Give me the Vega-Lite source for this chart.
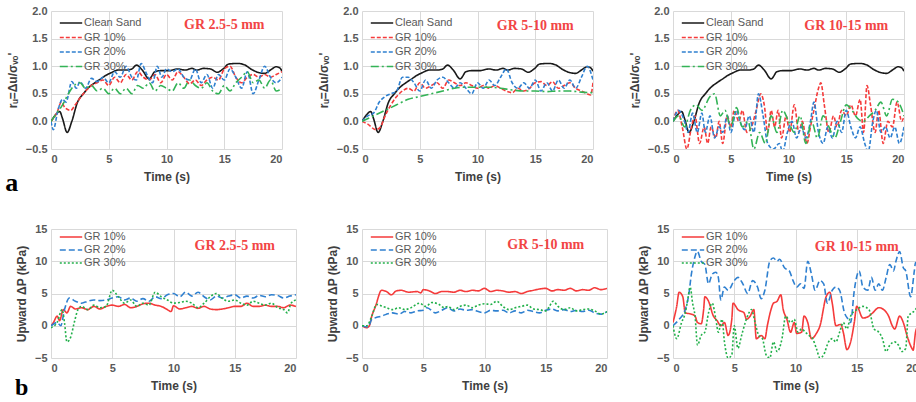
{
"$schema":"https://vega.github.io/schema/vega-lite/v6.json",
"padding":5,
"config":{"font":"Liberation Sans","view":{"stroke":null},
"axis":{"grid":true,"gridColor":"#d9d9d9","domain":false,"ticks":false,"labelFontWeight":"bold","labelFontSize":11,"labelColor":"#595959","titleFontSize":12,"titleColor":"#404040","titleFontWeight":"bold","labelPadding":4},
"axisX":{"titlePadding":7},"axisY":{"titlePadding":6},
"legend":{"orient":"none","legendX":12,"legendY":4,"padding":0,"labelFontSize":11,"labelColor":"#595959","symbolType":"M-1.6,0H1.6","symbolSize":196,"symbolStrokeWidth":1.6,"labelOffset":5,"rowPadding":1.5}},
"datasets":{
"cs":[{"s":"Clean Sand","t":0,"v":0},{"s":"Clean Sand","t":0.4,"v":0.12},{"s":"Clean Sand","t":0.75,"v":0.18},{"s":"Clean Sand","t":1.0,"v":0.05},{"s":"Clean Sand","t":1.4,"v":-0.2},{"s":"Clean Sand","t":1.8,"v":0.0},{"s":"Clean Sand","t":2.3,"v":0.35},{"s":"Clean Sand","t":2.8,"v":0.5},{"s":"Clean Sand","t":3.3,"v":0.62},{"s":"Clean Sand","t":3.8,"v":0.7},{"s":"Clean Sand","t":4.3,"v":0.77},{"s":"Clean Sand","t":4.8,"v":0.84},{"s":"Clean Sand","t":5.2,"v":0.88},{"s":"Clean Sand","t":5.8,"v":0.93},{"s":"Clean Sand","t":6.5,"v":0.93},{"s":"Clean Sand","t":7.0,"v":0.95},{"s":"Clean Sand","t":7.4,"v":1.02},{"s":"Clean Sand","t":7.9,"v":0.93},{"s":"Clean Sand","t":8.5,"v":0.77},{"s":"Clean Sand","t":9.0,"v":0.9},{"s":"Clean Sand","t":9.5,"v":0.92},{"s":"Clean Sand","t":10.2,"v":0.92},{"s":"Clean Sand","t":11.0,"v":0.95},{"s":"Clean Sand","t":11.6,"v":0.93},{"s":"Clean Sand","t":12.2,"v":0.96},{"s":"Clean Sand","t":12.6,"v":0.93},{"s":"Clean Sand","t":13.2,"v":0.96},{"s":"Clean Sand","t":13.8,"v":0.95},{"s":"Clean Sand","t":14.4,"v":0.89},{"s":"Clean Sand","t":14.9,"v":0.95},{"s":"Clean Sand","t":15.4,"v":1.04},{"s":"Clean Sand","t":16.2,"v":1.05},{"s":"Clean Sand","t":16.8,"v":1.02},{"s":"Clean Sand","t":17.3,"v":0.95},{"s":"Clean Sand","t":17.9,"v":0.89},{"s":"Clean Sand","t":18.5,"v":0.87},{"s":"Clean Sand","t":19.0,"v":0.93},{"s":"Clean Sand","t":19.5,"v":0.99},{"s":"Clean Sand","t":19.8,"v":0.97},{"s":"Clean Sand","t":20,"v":0.91}],
"a1":[
{"s":"GR 10%","t":0,"v":0},{"s":"GR 10%","t":0.5,"v":0.15},{"s":"GR 10%","t":0.9,"v":0.35},{"s":"GR 10%","t":1.2,"v":0.25},{"s":"GR 10%","t":1.7,"v":0.2},{"s":"GR 10%","t":2.1,"v":0.3},{"s":"GR 10%","t":2.5,"v":0.42},{"s":"GR 10%","t":3,"v":0.55},{"s":"GR 10%","t":3.5,"v":0.65},{"s":"GR 10%","t":4,"v":0.7},{"s":"GR 10%","t":4.5,"v":0.75},{"s":"GR 10%","t":5,"v":0.65},{"s":"GR 10%","t":5.5,"v":0.8},{"s":"GR 10%","t":6,"v":0.7},{"s":"GR 10%","t":6.5,"v":0.85},{"s":"GR 10%","t":7,"v":0.75},{"s":"GR 10%","t":7.5,"v":0.9},{"s":"GR 10%","t":8,"v":0.8},{"s":"GR 10%","t":8.5,"v":0.75},{"s":"GR 10%","t":9,"v":0.85},{"s":"GR 10%","t":9.5,"v":0.7},{"s":"GR 10%","t":10,"v":0.85},{"s":"GR 10%","t":10.5,"v":0.75},{"s":"GR 10%","t":11,"v":0.9},{"s":"GR 10%","t":11.5,"v":0.8},{"s":"GR 10%","t":12,"v":0.68},{"s":"GR 10%","t":12.5,"v":0.75},{"s":"GR 10%","t":13,"v":0.65},{"s":"GR 10%","t":13.5,"v":0.75},{"s":"GR 10%","t":14,"v":0.8},{"s":"GR 10%","t":14.5,"v":0.75},{"s":"GR 10%","t":15,"v":0.95},{"s":"GR 10%","t":15.5,"v":1.0},{"s":"GR 10%","t":16,"v":0.8},{"s":"GR 10%","t":16.5,"v":0.7},{"s":"GR 10%","t":17,"v":0.8},{"s":"GR 10%","t":17.5,"v":0.85},{"s":"GR 10%","t":18,"v":0.8},{"s":"GR 10%","t":18.5,"v":0.85},{"s":"GR 10%","t":19,"v":0.8},{"s":"GR 10%","t":19.5,"v":0.85},{"s":"GR 10%","t":20,"v":0.9},
{"s":"GR 20%","t":0,"v":0},{"s":"GR 20%","t":0.2,"v":-0.15},{"s":"GR 20%","t":0.6,"v":0.2},{"s":"GR 20%","t":1,"v":0.4},{"s":"GR 20%","t":1.3,"v":0.35},{"s":"GR 20%","t":1.8,"v":0.72},{"s":"GR 20%","t":2.2,"v":0.6},{"s":"GR 20%","t":2.5,"v":0.72},{"s":"GR 20%","t":3,"v":0.6},{"s":"GR 20%","t":3.5,"v":0.78},{"s":"GR 20%","t":4,"v":0.72},{"s":"GR 20%","t":4.5,"v":0.8},{"s":"GR 20%","t":5,"v":0.7},{"s":"GR 20%","t":5.5,"v":0.9},{"s":"GR 20%","t":6,"v":0.8},{"s":"GR 20%","t":6.5,"v":1.0},{"s":"GR 20%","t":7,"v":0.8},{"s":"GR 20%","t":7.4,"v":0.75},{"s":"GR 20%","t":7.8,"v":1.05},{"s":"GR 20%","t":8.3,"v":0.85},{"s":"GR 20%","t":8.8,"v":0.7},{"s":"GR 20%","t":9.2,"v":1.0},{"s":"GR 20%","t":9.6,"v":0.8},{"s":"GR 20%","t":10,"v":0.95},{"s":"GR 20%","t":10.5,"v":0.9},{"s":"GR 20%","t":11,"v":0.95},{"s":"GR 20%","t":11.5,"v":0.8},{"s":"GR 20%","t":12,"v":0.75},{"s":"GR 20%","t":12.5,"v":0.95},{"s":"GR 20%","t":13,"v":0.7},{"s":"GR 20%","t":13.5,"v":0.85},{"s":"GR 20%","t":14,"v":0.6},{"s":"GR 20%","t":14.5,"v":0.85},{"s":"GR 20%","t":15,"v":0.75},{"s":"GR 20%","t":15.5,"v":0.95},{"s":"GR 20%","t":16,"v":0.8},{"s":"GR 20%","t":16.5,"v":0.6},{"s":"GR 20%","t":17,"v":0.9},{"s":"GR 20%","t":17.5,"v":0.5},{"s":"GR 20%","t":18,"v":0.75},{"s":"GR 20%","t":18.5,"v":1.0},{"s":"GR 20%","t":19,"v":0.8},{"s":"GR 20%","t":19.5,"v":0.7},{"s":"GR 20%","t":20,"v":0.8},
{"s":"GR 30%","t":0,"v":0},{"s":"GR 30%","t":0.5,"v":0.15},{"s":"GR 30%","t":1,"v":0.3},{"s":"GR 30%","t":1.5,"v":0.5},{"s":"GR 30%","t":2,"v":0.65},{"s":"GR 30%","t":2.5,"v":0.7},{"s":"GR 30%","t":3,"v":0.6},{"s":"GR 30%","t":3.5,"v":0.65},{"s":"GR 30%","t":4,"v":0.55},{"s":"GR 30%","t":4.5,"v":0.6},{"s":"GR 30%","t":5,"v":0.5},{"s":"GR 30%","t":5.5,"v":0.6},{"s":"GR 30%","t":6,"v":0.5},{"s":"GR 30%","t":6.5,"v":0.6},{"s":"GR 30%","t":7,"v":0.5},{"s":"GR 30%","t":7.5,"v":0.65},{"s":"GR 30%","t":8,"v":0.6},{"s":"GR 30%","t":8.5,"v":0.7},{"s":"GR 30%","t":9,"v":0.55},{"s":"GR 30%","t":9.5,"v":0.65},{"s":"GR 30%","t":10,"v":0.6},{"s":"GR 30%","t":10.5,"v":0.55},{"s":"GR 30%","t":11,"v":0.7},{"s":"GR 30%","t":11.5,"v":0.6},{"s":"GR 30%","t":12,"v":0.75},{"s":"GR 30%","t":12.5,"v":0.65},{"s":"GR 30%","t":13,"v":0.6},{"s":"GR 30%","t":13.5,"v":0.7},{"s":"GR 30%","t":14,"v":0.55},{"s":"GR 30%","t":14.5,"v":0.5},{"s":"GR 30%","t":15,"v":0.65},{"s":"GR 30%","t":15.5,"v":0.55},{"s":"GR 30%","t":16,"v":0.7},{"s":"GR 30%","t":16.5,"v":0.8},{"s":"GR 30%","t":17,"v":0.9},{"s":"GR 30%","t":17.5,"v":0.7},{"s":"GR 30%","t":18,"v":0.75},{"s":"GR 30%","t":18.5,"v":0.6},{"s":"GR 30%","t":19,"v":0.75},{"s":"GR 30%","t":19.5,"v":0.55},{"s":"GR 30%","t":20,"v":0.6}],
"a2":[
{"s":"GR 10%","t":0,"v":0},{"s":"GR 10%","t":0.5,"v":-0.05},{"s":"GR 10%","t":1.2,"v":-0.15},{"s":"GR 10%","t":1.6,"v":-0.1},{"s":"GR 10%","t":2,"v":0.1},{"s":"GR 10%","t":2.5,"v":0.3},{"s":"GR 10%","t":3,"v":0.45},{"s":"GR 10%","t":3.5,"v":0.55},{"s":"GR 10%","t":4,"v":0.6},{"s":"GR 10%","t":4.5,"v":0.55},{"s":"GR 10%","t":5,"v":0.7},{"s":"GR 10%","t":5.5,"v":0.6},{"s":"GR 10%","t":6,"v":0.65},{"s":"GR 10%","t":6.5,"v":0.7},{"s":"GR 10%","t":7,"v":0.6},{"s":"GR 10%","t":7.5,"v":0.75},{"s":"GR 10%","t":8,"v":0.7},{"s":"GR 10%","t":8.5,"v":0.65},{"s":"GR 10%","t":9,"v":0.7},{"s":"GR 10%","t":9.5,"v":0.65},{"s":"GR 10%","t":10,"v":0.6},{"s":"GR 10%","t":10.5,"v":0.65},{"s":"GR 10%","t":11,"v":0.6},{"s":"GR 10%","t":11.5,"v":0.65},{"s":"GR 10%","t":12,"v":0.6},{"s":"GR 10%","t":12.5,"v":0.55},{"s":"GR 10%","t":13,"v":0.52},{"s":"GR 10%","t":13.5,"v":0.6},{"s":"GR 10%","t":14,"v":0.55},{"s":"GR 10%","t":14.5,"v":0.6},{"s":"GR 10%","t":15,"v":0.7},{"s":"GR 10%","t":15.5,"v":0.72},{"s":"GR 10%","t":16,"v":0.65},{"s":"GR 10%","t":16.5,"v":0.72},{"s":"GR 10%","t":17,"v":0.6},{"s":"GR 10%","t":17.5,"v":0.65},{"s":"GR 10%","t":18,"v":0.7},{"s":"GR 10%","t":18.5,"v":0.6},{"s":"GR 10%","t":19,"v":0.55},{"s":"GR 10%","t":19.5,"v":0.5},{"s":"GR 10%","t":19.8,"v":0.48},{"s":"GR 10%","t":20,"v":0.7},
{"s":"GR 20%","t":0,"v":0},{"s":"GR 20%","t":0.5,"v":0.1},{"s":"GR 20%","t":1,"v":0.15},{"s":"GR 20%","t":1.5,"v":0.35},{"s":"GR 20%","t":2,"v":0.45},{"s":"GR 20%","t":2.5,"v":0.5},{"s":"GR 20%","t":3,"v":0.55},{"s":"GR 20%","t":3.5,"v":0.8},{"s":"GR 20%","t":4,"v":0.8},{"s":"GR 20%","t":4.5,"v":0.7},{"s":"GR 20%","t":5,"v":0.55},{"s":"GR 20%","t":5.5,"v":0.75},{"s":"GR 20%","t":6,"v":0.6},{"s":"GR 20%","t":6.5,"v":0.75},{"s":"GR 20%","t":7,"v":0.8},{"s":"GR 20%","t":7.5,"v":0.7},{"s":"GR 20%","t":8,"v":0.6},{"s":"GR 20%","t":8.5,"v":0.7},{"s":"GR 20%","t":9,"v":0.6},{"s":"GR 20%","t":9.5,"v":0.5},{"s":"GR 20%","t":10,"v":0.7},{"s":"GR 20%","t":10.5,"v":0.6},{"s":"GR 20%","t":11,"v":0.75},{"s":"GR 20%","t":11.5,"v":0.65},{"s":"GR 20%","t":12,"v":0.8},{"s":"GR 20%","t":12.5,"v":0.95},{"s":"GR 20%","t":13,"v":0.7},{"s":"GR 20%","t":13.5,"v":0.6},{"s":"GR 20%","t":14,"v":0.7},{"s":"GR 20%","t":14.5,"v":0.6},{"s":"GR 20%","t":15,"v":0.75},{"s":"GR 20%","t":15.5,"v":0.55},{"s":"GR 20%","t":16,"v":0.7},{"s":"GR 20%","t":16.5,"v":0.55},{"s":"GR 20%","t":17,"v":0.75},{"s":"GR 20%","t":17.5,"v":0.6},{"s":"GR 20%","t":18,"v":0.75},{"s":"GR 20%","t":18.5,"v":0.6},{"s":"GR 20%","t":19,"v":0.8},{"s":"GR 20%","t":19.5,"v":1.0},{"s":"GR 20%","t":20,"v":0.75},
{"s":"GR 30%","t":0,"v":0},{"s":"GR 30%","t":1,"v":0.1},{"s":"GR 30%","t":2,"v":0.2},{"s":"GR 30%","t":3,"v":0.3},{"s":"GR 30%","t":4,"v":0.4},{"s":"GR 30%","t":5,"v":0.45},{"s":"GR 30%","t":6,"v":0.5},{"s":"GR 30%","t":7,"v":0.55},{"s":"GR 30%","t":8,"v":0.6},{"s":"GR 30%","t":9,"v":0.62},{"s":"GR 30%","t":10,"v":0.62},{"s":"GR 30%","t":11,"v":0.62},{"s":"GR 30%","t":12,"v":0.6},{"s":"GR 30%","t":13,"v":0.57},{"s":"GR 30%","t":14,"v":0.55},{"s":"GR 30%","t":15,"v":0.55},{"s":"GR 30%","t":16,"v":0.54},{"s":"GR 30%","t":17,"v":0.55},{"s":"GR 30%","t":18,"v":0.55},{"s":"GR 30%","t":19,"v":0.53},{"s":"GR 30%","t":20,"v":0.52}],
"a3":[
{"s":"GR 10%","t":0,"v":0},{"s":"GR 10%","t":0.4,"v":0.2},{"s":"GR 10%","t":0.8,"v":-0.1},{"s":"GR 10%","t":1.2,"v":-0.5},{"s":"GR 10%","t":1.6,"v":-0.1},{"s":"GR 10%","t":1.9,"v":0.1},{"s":"GR 10%","t":2.3,"v":-0.4},{"s":"GR 10%","t":2.7,"v":-0.1},{"s":"GR 10%","t":3.0,"v":-0.4},{"s":"GR 10%","t":3.3,"v":-0.1},{"s":"GR 10%","t":3.7,"v":-0.3},{"s":"GR 10%","t":4.0,"v":0.0},{"s":"GR 10%","t":4.3,"v":-0.4},{"s":"GR 10%","t":4.7,"v":0.1},{"s":"GR 10%","t":5,"v":-0.1},{"s":"GR 10%","t":5.3,"v":0.2},{"s":"GR 10%","t":5.7,"v":0.0},{"s":"GR 10%","t":6.0,"v":0.2},{"s":"GR 10%","t":6.4,"v":-0.2},{"s":"GR 10%","t":6.8,"v":-0.1},{"s":"GR 10%","t":7.2,"v":0.2},{"s":"GR 10%","t":7.6,"v":0.5},{"s":"GR 10%","t":7.9,"v":0.3},{"s":"GR 10%","t":8.2,"v":-0.2},{"s":"GR 10%","t":8.5,"v":0.2},{"s":"GR 10%","t":8.8,"v":-0.1},{"s":"GR 10%","t":9.1,"v":0.2},{"s":"GR 10%","t":9.4,"v":-0.3},{"s":"GR 10%","t":9.8,"v":0.1},{"s":"GR 10%","t":10.1,"v":-0.2},{"s":"GR 10%","t":10.5,"v":0.3},{"s":"GR 10%","t":10.9,"v":-0.2},{"s":"GR 10%","t":11.2,"v":0.0},{"s":"GR 10%","t":11.6,"v":-0.4},{"s":"GR 10%","t":11.9,"v":-0.1},{"s":"GR 10%","t":12.2,"v":0.2},{"s":"GR 10%","t":12.6,"v":0.6},{"s":"GR 10%","t":12.8,"v":0.7},{"s":"GR 10%","t":13.1,"v":0.3},{"s":"GR 10%","t":13.5,"v":-0.2},{"s":"GR 10%","t":13.9,"v":0.1},{"s":"GR 10%","t":14.2,"v":-0.1},{"s":"GR 10%","t":14.6,"v":0.2},{"s":"GR 10%","t":15,"v":0.1},{"s":"GR 10%","t":15.4,"v":0.3},{"s":"GR 10%","t":15.8,"v":0.1},{"s":"GR 10%","t":16.2,"v":0.4},{"s":"GR 10%","t":16.5,"v":-0.2},{"s":"GR 10%","t":16.8,"v":0.65},{"s":"GR 10%","t":17.1,"v":0.3},{"s":"GR 10%","t":17.5,"v":-0.2},{"s":"GR 10%","t":17.8,"v":0.2},{"s":"GR 10%","t":18.2,"v":-0.4},{"s":"GR 10%","t":18.6,"v":0.0},{"s":"GR 10%","t":19,"v":-0.1},{"s":"GR 10%","t":19.4,"v":0.35},{"s":"GR 10%","t":19.8,"v":0.0},{"s":"GR 10%","t":20,"v":0.1},
{"s":"GR 20%","t":0,"v":0},{"s":"GR 20%","t":0.5,"v":0.2},{"s":"GR 20%","t":1.0,"v":0.0},{"s":"GR 20%","t":1.3,"v":-0.2},{"s":"GR 20%","t":1.7,"v":0.15},{"s":"GR 20%","t":2.1,"v":-0.2},{"s":"GR 20%","t":2.5,"v":0.15},{"s":"GR 20%","t":2.8,"v":-0.2},{"s":"GR 20%","t":3.2,"v":0.1},{"s":"GR 20%","t":3.6,"v":-0.3},{"s":"GR 20%","t":4,"v":-0.1},{"s":"GR 20%","t":4.3,"v":-0.2},{"s":"GR 20%","t":4.7,"v":0.1},{"s":"GR 20%","t":5,"v":-0.2},{"s":"GR 20%","t":5.5,"v":0.2},{"s":"GR 20%","t":5.8,"v":0.0},{"s":"GR 20%","t":6.2,"v":-0.15},{"s":"GR 20%","t":6.6,"v":0.1},{"s":"GR 20%","t":7.0,"v":-0.2},{"s":"GR 20%","t":7.4,"v":0.5},{"s":"GR 20%","t":7.8,"v":0.1},{"s":"GR 20%","t":8.2,"v":-0.4},{"s":"GR 20%","t":8.7,"v":-0.5},{"s":"GR 20%","t":9.2,"v":-0.4},{"s":"GR 20%","t":9.5,"v":-0.55},{"s":"GR 20%","t":9.9,"v":-0.2},{"s":"GR 20%","t":10.3,"v":0.0},{"s":"GR 20%","t":10.7,"v":-0.3},{"s":"GR 20%","t":11.1,"v":-0.1},{"s":"GR 20%","t":11.5,"v":-0.3},{"s":"GR 20%","t":11.9,"v":0.0},{"s":"GR 20%","t":12.2,"v":0.35},{"s":"GR 20%","t":12.6,"v":-0.2},{"s":"GR 20%","t":13,"v":-0.4},{"s":"GR 20%","t":13.4,"v":-0.1},{"s":"GR 20%","t":13.8,"v":-0.3},{"s":"GR 20%","t":14.2,"v":0.0},{"s":"GR 20%","t":14.6,"v":-0.2},{"s":"GR 20%","t":15,"v":0.2},{"s":"GR 20%","t":15.4,"v":-0.1},{"s":"GR 20%","t":15.8,"v":-0.3},{"s":"GR 20%","t":16.2,"v":-0.1},{"s":"GR 20%","t":16.6,"v":-0.4},{"s":"GR 20%","t":16.9,"v":-0.55},{"s":"GR 20%","t":17.3,"v":0.0},{"s":"GR 20%","t":17.6,"v":0.2},{"s":"GR 20%","t":18,"v":-0.2},{"s":"GR 20%","t":18.4,"v":-0.1},{"s":"GR 20%","t":18.8,"v":-0.3},{"s":"GR 20%","t":19.2,"v":-0.1},{"s":"GR 20%","t":19.6,"v":-0.4},{"s":"GR 20%","t":20,"v":-0.1},
{"s":"GR 30%","t":0,"v":0},{"s":"GR 30%","t":0.5,"v":0.1},{"s":"GR 30%","t":1,"v":-0.1},{"s":"GR 30%","t":1.5,"v":0.2},{"s":"GR 30%","t":2,"v":0.3},{"s":"GR 30%","t":2.5,"v":0.2},{"s":"GR 30%","t":3.2,"v":0.45},{"s":"GR 30%","t":3.6,"v":0.5},{"s":"GR 30%","t":4.1,"v":0.1},{"s":"GR 30%","t":4.5,"v":0.2},{"s":"GR 30%","t":5,"v":-0.1},{"s":"GR 30%","t":5.5,"v":0.25},{"s":"GR 30%","t":6,"v":-0.1},{"s":"GR 30%","t":6.5,"v":0.0},{"s":"GR 30%","t":7,"v":-0.5},{"s":"GR 30%","t":7.5,"v":-0.2},{"s":"GR 30%","t":8,"v":-0.4},{"s":"GR 30%","t":8.5,"v":0.1},{"s":"GR 30%","t":9,"v":-0.2},{"s":"GR 30%","t":9.5,"v":0.2},{"s":"GR 30%","t":10,"v":0.0},{"s":"GR 30%","t":10.5,"v":-0.2},{"s":"GR 30%","t":11,"v":0.1},{"s":"GR 30%","t":11.5,"v":-0.4},{"s":"GR 30%","t":12,"v":0.0},{"s":"GR 30%","t":12.5,"v":-0.3},{"s":"GR 30%","t":13,"v":0.1},{"s":"GR 30%","t":13.5,"v":-0.1},{"s":"GR 30%","t":14,"v":-0.3},{"s":"GR 30%","t":14.5,"v":0.0},{"s":"GR 30%","t":15,"v":0.3},{"s":"GR 30%","t":15.5,"v":0.2},{"s":"GR 30%","t":16,"v":0.05},{"s":"GR 30%","t":16.5,"v":0.0},{"s":"GR 30%","t":17,"v":0.1},{"s":"GR 30%","t":17.5,"v":0.2},{"s":"GR 30%","t":18,"v":0.35},{"s":"GR 30%","t":18.5,"v":0.1},{"s":"GR 30%","t":19,"v":0.4},{"s":"GR 30%","t":19.5,"v":0.35},{"s":"GR 30%","t":20,"v":0.1}],
"b1":[
{"s":"GR 10%","t":0,"v":0},{"s":"GR 10%","t":0.2,"v":0.5},{"s":"GR 10%","t":0.5,"v":1.5},{"s":"GR 10%","t":0.7,"v":0.8},{"s":"GR 10%","t":1.0,"v":2.5},{"s":"GR 10%","t":1.3,"v":2.0},{"s":"GR 10%","t":1.6,"v":3.0},{"s":"GR 10%","t":2,"v":2.6},{"s":"GR 10%","t":2.5,"v":2.8},{"s":"GR 10%","t":3,"v":2.5},{"s":"GR 10%","t":3.5,"v":3.0},{"s":"GR 10%","t":4,"v":2.6},{"s":"GR 10%","t":4.5,"v":3.0},{"s":"GR 10%","t":5,"v":3.2},{"s":"GR 10%","t":5.5,"v":3.0},{"s":"GR 10%","t":6,"v":3.3},{"s":"GR 10%","t":6.5,"v":2.8},{"s":"GR 10%","t":7,"v":3.0},{"s":"GR 10%","t":7.5,"v":3.4},{"s":"GR 10%","t":8,"v":3.5},{"s":"GR 10%","t":8.5,"v":3.2},{"s":"GR 10%","t":9,"v":3.0},{"s":"GR 10%","t":9.5,"v":2.5},{"s":"GR 10%","t":9.8,"v":2.2},{"s":"GR 10%","t":10,"v":3.1},{"s":"GR 10%","t":10.5,"v":2.6},{"s":"GR 10%","t":11,"v":2.8},{"s":"GR 10%","t":11.5,"v":3.0},{"s":"GR 10%","t":12,"v":2.7},{"s":"GR 10%","t":12.5,"v":3.0},{"s":"GR 10%","t":13,"v":2.6},{"s":"GR 10%","t":13.5,"v":2.5},{"s":"GR 10%","t":14,"v":2.6},{"s":"GR 10%","t":14.5,"v":2.8},{"s":"GR 10%","t":15,"v":3.0},{"s":"GR 10%","t":15.5,"v":3.0},{"s":"GR 10%","t":16,"v":3.5},{"s":"GR 10%","t":16.5,"v":3.0},{"s":"GR 10%","t":17,"v":3.0},{"s":"GR 10%","t":17.5,"v":3.2},{"s":"GR 10%","t":18,"v":3.0},{"s":"GR 10%","t":18.5,"v":3.0},{"s":"GR 10%","t":19,"v":2.8},{"s":"GR 10%","t":19.5,"v":3.2},{"s":"GR 10%","t":20,"v":3.0},
{"s":"GR 20%","t":0,"v":0},{"s":"GR 20%","t":0.5,"v":0.5},{"s":"GR 20%","t":0.8,"v":0},{"s":"GR 20%","t":1.1,"v":2.5},{"s":"GR 20%","t":1.5,"v":4.3},{"s":"GR 20%","t":2,"v":3.8},{"s":"GR 20%","t":2.5,"v":3.5},{"s":"GR 20%","t":3,"v":3.8},{"s":"GR 20%","t":3.5,"v":4.0},{"s":"GR 20%","t":4,"v":3.9},{"s":"GR 20%","t":4.5,"v":4.0},{"s":"GR 20%","t":5,"v":4.3},{"s":"GR 20%","t":5.5,"v":4.5},{"s":"GR 20%","t":6,"v":4.0},{"s":"GR 20%","t":6.5,"v":4.3},{"s":"GR 20%","t":7,"v":3.8},{"s":"GR 20%","t":7.5,"v":4.2},{"s":"GR 20%","t":8,"v":3.8},{"s":"GR 20%","t":8.5,"v":4.5},{"s":"GR 20%","t":9,"v":4.2},{"s":"GR 20%","t":9.5,"v":4.8},{"s":"GR 20%","t":10,"v":5.0},{"s":"GR 20%","t":10.5,"v":4.5},{"s":"GR 20%","t":11,"v":5.2},{"s":"GR 20%","t":11.5,"v":4.6},{"s":"GR 20%","t":12,"v":5.2},{"s":"GR 20%","t":12.5,"v":4.5},{"s":"GR 20%","t":13,"v":4.0},{"s":"GR 20%","t":13.5,"v":4.6},{"s":"GR 20%","t":14,"v":4.3},{"s":"GR 20%","t":14.5,"v":4.6},{"s":"GR 20%","t":15,"v":4.8},{"s":"GR 20%","t":15.5,"v":4.3},{"s":"GR 20%","t":16,"v":4.6},{"s":"GR 20%","t":16.5,"v":4.3},{"s":"GR 20%","t":17,"v":4.7},{"s":"GR 20%","t":17.5,"v":4.5},{"s":"GR 20%","t":18,"v":4.8},{"s":"GR 20%","t":18.5,"v":4.7},{"s":"GR 20%","t":19,"v":4.3},{"s":"GR 20%","t":19.5,"v":4.6},{"s":"GR 20%","t":20,"v":4.8},
{"s":"GR 30%","t":0,"v":-0.3},{"s":"GR 30%","t":0.5,"v":0.5},{"s":"GR 30%","t":0.9,"v":2.5},{"s":"GR 30%","t":1.1,"v":0.5},{"s":"GR 30%","t":1.3,"v":-2.5},{"s":"GR 30%","t":1.6,"v":-1.8},{"s":"GR 30%","t":1.9,"v":0.5},{"s":"GR 30%","t":2.2,"v":2.5},{"s":"GR 30%","t":2.5,"v":3.0},{"s":"GR 30%","t":3,"v":2.5},{"s":"GR 30%","t":3.5,"v":3.2},{"s":"GR 30%","t":4,"v":2.8},{"s":"GR 30%","t":4.5,"v":3.0},{"s":"GR 30%","t":5,"v":5.5},{"s":"GR 30%","t":5.5,"v":4.5},{"s":"GR 30%","t":6,"v":3.5},{"s":"GR 30%","t":6.5,"v":4.0},{"s":"GR 30%","t":7,"v":3.0},{"s":"GR 30%","t":7.5,"v":3.5},{"s":"GR 30%","t":8,"v":3.2},{"s":"GR 30%","t":8.5,"v":5.2},{"s":"GR 30%","t":9,"v":4.5},{"s":"GR 30%","t":9.5,"v":4.0},{"s":"GR 30%","t":10,"v":3.5},{"s":"GR 30%","t":10.5,"v":3.6},{"s":"GR 30%","t":11,"v":3.8},{"s":"GR 30%","t":11.5,"v":3.5},{"s":"GR 30%","t":12,"v":2.8},{"s":"GR 30%","t":12.5,"v":3.5},{"s":"GR 30%","t":13,"v":4.5},{"s":"GR 30%","t":13.5,"v":5.0},{"s":"GR 30%","t":14,"v":4.2},{"s":"GR 30%","t":14.5,"v":3.8},{"s":"GR 30%","t":15,"v":4.0},{"s":"GR 30%","t":15.5,"v":3.5},{"s":"GR 30%","t":16,"v":3.2},{"s":"GR 30%","t":16.5,"v":3.8},{"s":"GR 30%","t":17,"v":3.5},{"s":"GR 30%","t":17.5,"v":3.2},{"s":"GR 30%","t":18,"v":3.5},{"s":"GR 30%","t":18.5,"v":2.8},{"s":"GR 30%","t":19,"v":2.5},{"s":"GR 30%","t":19.3,"v":2.0},{"s":"GR 30%","t":19.6,"v":3.5},{"s":"GR 30%","t":20,"v":4.0}],
"b2":[
{"s":"GR 10%","t":0,"v":0},{"s":"GR 10%","t":0.4,"v":-0.3},{"s":"GR 10%","t":0.6,"v":0},{"s":"GR 10%","t":0.8,"v":1.5},{"s":"GR 10%","t":1.1,"v":3.0},{"s":"GR 10%","t":1.6,"v":5.5},{"s":"GR 10%","t":2,"v":5.3},{"s":"GR 10%","t":2.4,"v":4.8},{"s":"GR 10%","t":2.8,"v":5.4},{"s":"GR 10%","t":3.2,"v":5.5},{"s":"GR 10%","t":3.8,"v":5.2},{"s":"GR 10%","t":4.5,"v":5.3},{"s":"GR 10%","t":4.8,"v":5.1},{"s":"GR 10%","t":5,"v":5.6},{"s":"GR 10%","t":5.5,"v":5.4},{"s":"GR 10%","t":6,"v":5.0},{"s":"GR 10%","t":6.5,"v":5.3},{"s":"GR 10%","t":7,"v":5.3},{"s":"GR 10%","t":7.5,"v":5.2},{"s":"GR 10%","t":8,"v":5.5},{"s":"GR 10%","t":8.5,"v":5.3},{"s":"GR 10%","t":9,"v":5.5},{"s":"GR 10%","t":9.5,"v":5.4},{"s":"GR 10%","t":10,"v":5.8},{"s":"GR 10%","t":10.5,"v":5.3},{"s":"GR 10%","t":11,"v":5.5},{"s":"GR 10%","t":11.5,"v":5.4},{"s":"GR 10%","t":12,"v":5.2},{"s":"GR 10%","t":12.5,"v":5.3},{"s":"GR 10%","t":13,"v":5.0},{"s":"GR 10%","t":13.5,"v":5.3},{"s":"GR 10%","t":14,"v":5.5},{"s":"GR 10%","t":14.5,"v":5.7},{"s":"GR 10%","t":15,"v":5.8},{"s":"GR 10%","t":15.5,"v":5.4},{"s":"GR 10%","t":16,"v":5.6},{"s":"GR 10%","t":16.5,"v":5.5},{"s":"GR 10%","t":17,"v":5.8},{"s":"GR 10%","t":17.5,"v":5.4},{"s":"GR 10%","t":18,"v":5.6},{"s":"GR 10%","t":18.5,"v":5.5},{"s":"GR 10%","t":19,"v":5.9},{"s":"GR 10%","t":19.5,"v":5.6},{"s":"GR 10%","t":20,"v":5.8},
{"s":"GR 20%","t":0,"v":0},{"s":"GR 20%","t":0.5,"v":-0.2},{"s":"GR 20%","t":0.8,"v":1.0},{"s":"GR 20%","t":1.2,"v":1.3},{"s":"GR 20%","t":1.6,"v":1.5},{"s":"GR 20%","t":2,"v":1.8},{"s":"GR 20%","t":2.5,"v":2.0},{"s":"GR 20%","t":3,"v":1.8},{"s":"GR 20%","t":3.5,"v":2.2},{"s":"GR 20%","t":4,"v":2.0},{"s":"GR 20%","t":4.5,"v":2.3},{"s":"GR 20%","t":5,"v":2.4},{"s":"GR 20%","t":5.3,"v":2.8},{"s":"GR 20%","t":6,"v":2.0},{"s":"GR 20%","t":6.5,"v":2.4},{"s":"GR 20%","t":7,"v":2.8},{"s":"GR 20%","t":7.5,"v":2.3},{"s":"GR 20%","t":8,"v":2.6},{"s":"GR 20%","t":8.5,"v":2.4},{"s":"GR 20%","t":9,"v":2.5},{"s":"GR 20%","t":9.5,"v":2.2},{"s":"GR 20%","t":10,"v":2.0},{"s":"GR 20%","t":10.5,"v":2.4},{"s":"GR 20%","t":11,"v":2.3},{"s":"GR 20%","t":11.5,"v":2.4},{"s":"GR 20%","t":12,"v":2.0},{"s":"GR 20%","t":12.5,"v":2.3},{"s":"GR 20%","t":13,"v":2.0},{"s":"GR 20%","t":13.5,"v":2.4},{"s":"GR 20%","t":14,"v":2.2},{"s":"GR 20%","t":14.5,"v":2.0},{"s":"GR 20%","t":15,"v":2.4},{"s":"GR 20%","t":15.5,"v":2.6},{"s":"GR 20%","t":16,"v":2.3},{"s":"GR 20%","t":16.5,"v":2.5},{"s":"GR 20%","t":17,"v":2.2},{"s":"GR 20%","t":17.5,"v":2.4},{"s":"GR 20%","t":18,"v":2.2},{"s":"GR 20%","t":18.5,"v":2.4},{"s":"GR 20%","t":19,"v":2.0},{"s":"GR 20%","t":19.5,"v":1.8},{"s":"GR 20%","t":20,"v":2.2},
{"s":"GR 30%","t":0,"v":0},{"s":"GR 30%","t":0.4,"v":0},{"s":"GR 30%","t":0.8,"v":1.5},{"s":"GR 30%","t":1.2,"v":3.3},{"s":"GR 30%","t":1.7,"v":3.0},{"s":"GR 30%","t":2,"v":2.8},{"s":"GR 30%","t":2.5,"v":2.5},{"s":"GR 30%","t":3,"v":2.8},{"s":"GR 30%","t":3.5,"v":2.5},{"s":"GR 30%","t":4,"v":2.8},{"s":"GR 30%","t":4.7,"v":3.5},{"s":"GR 30%","t":5.2,"v":3.0},{"s":"GR 30%","t":5.7,"v":3.6},{"s":"GR 30%","t":6.3,"v":3.3},{"s":"GR 30%","t":6.7,"v":2.8},{"s":"GR 30%","t":7,"v":3.0},{"s":"GR 30%","t":7.5,"v":2.5},{"s":"GR 30%","t":8,"v":3.0},{"s":"GR 30%","t":8.5,"v":3.2},{"s":"GR 30%","t":9,"v":2.8},{"s":"GR 30%","t":9.5,"v":3.2},{"s":"GR 30%","t":10,"v":3.4},{"s":"GR 30%","t":10.5,"v":3.3},{"s":"GR 30%","t":11,"v":3.8},{"s":"GR 30%","t":11.5,"v":3.0},{"s":"GR 30%","t":12,"v":2.5},{"s":"GR 30%","t":12.5,"v":2.8},{"s":"GR 30%","t":13,"v":3.0},{"s":"GR 30%","t":13.5,"v":3.2},{"s":"GR 30%","t":14,"v":2.6},{"s":"GR 30%","t":14.5,"v":2.5},{"s":"GR 30%","t":15,"v":2.3},{"s":"GR 30%","t":15.3,"v":3.0},{"s":"GR 30%","t":15.6,"v":3.8},{"s":"GR 30%","t":16,"v":3.0},{"s":"GR 30%","t":16.5,"v":2.5},{"s":"GR 30%","t":17,"v":2.8},{"s":"GR 30%","t":17.5,"v":2.3},{"s":"GR 30%","t":18,"v":2.5},{"s":"GR 30%","t":18.5,"v":2.6},{"s":"GR 30%","t":19,"v":2.3},{"s":"GR 30%","t":19.5,"v":1.8},{"s":"GR 30%","t":20,"v":2.2}],
"b3":[
{"s":"GR 10%","t":0,"v":0.5},{"s":"GR 10%","t":0.3,"v":3},{"s":"GR 10%","t":0.5,"v":5.2},{"s":"GR 10%","t":0.8,"v":4.5},{"s":"GR 10%","t":1.0,"v":2.0},{"s":"GR 10%","t":1.5,"v":1.8},{"s":"GR 10%","t":1.8,"v":1.5},{"s":"GR 10%","t":2.0,"v":0.5},{"s":"GR 10%","t":2.3,"v":0.3},{"s":"GR 10%","t":2.5,"v":2.5},{"s":"GR 10%","t":2.6,"v":4.5},{"s":"GR 10%","t":2.9,"v":3.8},{"s":"GR 10%","t":3.3,"v":1.5},{"s":"GR 10%","t":3.6,"v":0.8},{"s":"GR 10%","t":3.9,"v":0},{"s":"GR 10%","t":4.2,"v":0.5},{"s":"GR 10%","t":4.5,"v":-1.5},{"s":"GR 10%","t":4.8,"v":1.0},{"s":"GR 10%","t":4.9,"v":3.5},{"s":"GR 10%","t":5.3,"v":2.5},{"s":"GR 10%","t":5.8,"v":2.0},{"s":"GR 10%","t":6.0,"v":1.0},{"s":"GR 10%","t":6.3,"v":1.5},{"s":"GR 10%","t":6.6,"v":2.5},{"s":"GR 10%","t":6.8,"v":-2.0},{"s":"GR 10%","t":7.2,"v":-1.5},{"s":"GR 10%","t":7.5,"v":-2.0},{"s":"GR 10%","t":7.7,"v":0},{"s":"GR 10%","t":8.0,"v":2.5},{"s":"GR 10%","t":8.2,"v":3.5},{"s":"GR 10%","t":8.5,"v":3.8},{"s":"GR 10%","t":8.8,"v":4.8},{"s":"GR 10%","t":9.0,"v":2.5},{"s":"GR 10%","t":9.3,"v":1.0},{"s":"GR 10%","t":9.6,"v":-1.0},{"s":"GR 10%","t":9.9,"v":0.5},{"s":"GR 10%","t":10.1,"v":-1.2},{"s":"GR 10%","t":10.5,"v":-1.0},{"s":"GR 10%","t":10.7,"v":1.5},{"s":"GR 10%","t":11,"v":0.5},{"s":"GR 10%","t":11.3,"v":-2.0},{"s":"GR 10%","t":11.7,"v":-1.2},{"s":"GR 10%","t":12.0,"v":0.0},{"s":"GR 10%","t":12.5,"v":4.5},{"s":"GR 10%","t":12.8,"v":5.2},{"s":"GR 10%","t":13.0,"v":3.5},{"s":"GR 10%","t":13.3,"v":0.0},{"s":"GR 10%","t":13.7,"v":0.2},{"s":"GR 10%","t":13.9,"v":-1.0},{"s":"GR 10%","t":14.2,"v":-3.7},{"s":"GR 10%","t":14.5,"v":-2.5},{"s":"GR 10%","t":14.8,"v":0.5},{"s":"GR 10%","t":15.0,"v":3.0},{"s":"GR 10%","t":15.5,"v":1.2},{"s":"GR 10%","t":16,"v":1.5},{"s":"GR 10%","t":16.3,"v":2.0},{"s":"GR 10%","t":16.8,"v":2.8},{"s":"GR 10%","t":17.2,"v":2.5},{"s":"GR 10%","t":17.6,"v":1.5},{"s":"GR 10%","t":17.9,"v":0},{"s":"GR 10%","t":18.1,"v":-0.5},{"s":"GR 10%","t":18.5,"v":1.5},{"s":"GR 10%","t":18.8,"v":0.5},{"s":"GR 10%","t":19.1,"v":-1.5},{"s":"GR 10%","t":19.5,"v":-3.5},{"s":"GR 10%","t":19.6,"v":-3.8},{"s":"GR 10%","t":19.8,"v":-1.0},{"s":"GR 10%","t":20,"v":0.0},
{"s":"GR 20%","t":0,"v":0},{"s":"GR 20%","t":0.5,"v":1.0},{"s":"GR 20%","t":1.0,"v":2.5},{"s":"GR 20%","t":1.3,"v":5.0},{"s":"GR 20%","t":1.5,"v":8.0},{"s":"GR 20%","t":1.7,"v":10.0},{"s":"GR 20%","t":2.0,"v":11.5},{"s":"GR 20%","t":2.3,"v":10.0},{"s":"GR 20%","t":2.6,"v":9.5},{"s":"GR 20%","t":2.9,"v":6.5},{"s":"GR 20%","t":3.2,"v":8.0},{"s":"GR 20%","t":3.5,"v":8.3},{"s":"GR 20%","t":3.7,"v":7.5},{"s":"GR 20%","t":3.9,"v":4.0},{"s":"GR 20%","t":4.2,"v":6.0},{"s":"GR 20%","t":4.5,"v":5.5},{"s":"GR 20%","t":5.0,"v":7.0},{"s":"GR 20%","t":5.3,"v":7.5},{"s":"GR 20%","t":5.7,"v":6.5},{"s":"GR 20%","t":6.1,"v":5.0},{"s":"GR 20%","t":6.5,"v":7.0},{"s":"GR 20%","t":6.9,"v":6.0},{"s":"GR 20%","t":7.2,"v":4.2},{"s":"GR 20%","t":7.5,"v":5.5},{"s":"GR 20%","t":7.9,"v":10.0},{"s":"GR 20%","t":8.2,"v":10.5},{"s":"GR 20%","t":8.5,"v":10.0},{"s":"GR 20%","t":8.7,"v":10.3},{"s":"GR 20%","t":9.1,"v":9.0},{"s":"GR 20%","t":9.5,"v":8.5},{"s":"GR 20%","t":9.8,"v":7.0},{"s":"GR 20%","t":10.1,"v":6.0},{"s":"GR 20%","t":10.4,"v":6.5},{"s":"GR 20%","t":10.7,"v":5.8},{"s":"GR 20%","t":11.0,"v":10.0},{"s":"GR 20%","t":11.3,"v":8.0},{"s":"GR 20%","t":11.6,"v":5.5},{"s":"GR 20%","t":12.0,"v":7.0},{"s":"GR 20%","t":12.3,"v":6.5},{"s":"GR 20%","t":12.6,"v":3.5},{"s":"GR 20%","t":13.0,"v":5.5},{"s":"GR 20%","t":13.3,"v":6.0},{"s":"GR 20%","t":13.6,"v":5.5},{"s":"GR 20%","t":14.0,"v":2.0},{"s":"GR 20%","t":14.3,"v":1.0},{"s":"GR 20%","t":14.5,"v":0.5},{"s":"GR 20%","t":14.8,"v":5.5},{"s":"GR 20%","t":15.2,"v":8.5},{"s":"GR 20%","t":15.5,"v":6.0},{"s":"GR 20%","t":15.9,"v":5.5},{"s":"GR 20%","t":16.2,"v":7.5},{"s":"GR 20%","t":16.5,"v":5.5},{"s":"GR 20%","t":16.8,"v":6.5},{"s":"GR 20%","t":17.1,"v":5.5},{"s":"GR 20%","t":17.4,"v":7.5},{"s":"GR 20%","t":17.7,"v":9.5},{"s":"GR 20%","t":18.0,"v":8.5},{"s":"GR 20%","t":18.2,"v":10.0},{"s":"GR 20%","t":18.5,"v":11.5},{"s":"GR 20%","t":18.8,"v":9.0},{"s":"GR 20%","t":19.0,"v":8.5},{"s":"GR 20%","t":19.4,"v":4.5},{"s":"GR 20%","t":19.7,"v":8.5},{"s":"GR 20%","t":19.8,"v":9.8},{"s":"GR 20%","t":20,"v":9.0},
{"s":"GR 30%","t":0,"v":0},{"s":"GR 30%","t":0.3,"v":-2.0},{"s":"GR 30%","t":0.7,"v":0.5},{"s":"GR 30%","t":1.0,"v":2.0},{"s":"GR 30%","t":1.2,"v":4.0},{"s":"GR 30%","t":1.4,"v":6.0},{"s":"GR 30%","t":1.6,"v":3.5},{"s":"GR 30%","t":1.8,"v":1.5},{"s":"GR 30%","t":2.0,"v":-3.0},{"s":"GR 30%","t":2.3,"v":-1.5},{"s":"GR 30%","t":2.6,"v":-1.0},{"s":"GR 30%","t":2.9,"v":2.0},{"s":"GR 30%","t":3.2,"v":3.5},{"s":"GR 30%","t":3.5,"v":1.0},{"s":"GR 30%","t":3.7,"v":-1.0},{"s":"GR 30%","t":4.0,"v":1.0},{"s":"GR 30%","t":4.2,"v":-2.5},{"s":"GR 30%","t":4.5,"v":-5.0},{"s":"GR 30%","t":4.8,"v":-4.5},{"s":"GR 30%","t":5.0,"v":0},{"s":"GR 30%","t":5.3,"v":-3.5},{"s":"GR 30%","t":5.6,"v":-1.5},{"s":"GR 30%","t":5.9,"v":0.5},{"s":"GR 30%","t":6.2,"v":2.0},{"s":"GR 30%","t":6.4,"v":2.5},{"s":"GR 30%","t":6.7,"v":0.5},{"s":"GR 30%","t":7.0,"v":-1.5},{"s":"GR 30%","t":7.3,"v":-2.0},{"s":"GR 30%","t":7.6,"v":-4.5},{"s":"GR 30%","t":7.9,"v":-5.0},{"s":"GR 30%","t":8.2,"v":-2.5},{"s":"GR 30%","t":8.5,"v":-4.0},{"s":"GR 30%","t":8.9,"v":-2.0},{"s":"GR 30%","t":9.2,"v":1.5},{"s":"GR 30%","t":9.6,"v":0.5},{"s":"GR 30%","t":9.9,"v":1.0},{"s":"GR 30%","t":10.2,"v":-1.0},{"s":"GR 30%","t":10.5,"v":-0.5},{"s":"GR 30%","t":10.8,"v":-1.0},{"s":"GR 30%","t":11.1,"v":-1.5},{"s":"GR 30%","t":11.4,"v":-2.0},{"s":"GR 30%","t":11.7,"v":-3.5},{"s":"GR 30%","t":12.0,"v":-5.0},{"s":"GR 30%","t":12.3,"v":-4.5},{"s":"GR 30%","t":12.7,"v":-2.5},{"s":"GR 30%","t":13.0,"v":-2.0},{"s":"GR 30%","t":13.3,"v":-2.5},{"s":"GR 30%","t":13.6,"v":-1.0},{"s":"GR 30%","t":13.9,"v":0.5},{"s":"GR 30%","t":14.2,"v":-0.5},{"s":"GR 30%","t":14.5,"v":1.5},{"s":"GR 30%","t":15.0,"v":2.5},{"s":"GR 30%","t":15.5,"v":3.0},{"s":"GR 30%","t":16.0,"v":2.5},{"s":"GR 30%","t":16.4,"v":-0.5},{"s":"GR 30%","t":16.8,"v":-1.0},{"s":"GR 30%","t":17.1,"v":-2.0},{"s":"GR 30%","t":17.4,"v":-4.0},{"s":"GR 30%","t":17.7,"v":-3.0},{"s":"GR 30%","t":18.1,"v":-2.5},{"s":"GR 30%","t":18.4,"v":-3.0},{"s":"GR 30%","t":18.7,"v":-4.0},{"s":"GR 30%","t":19.0,"v":-3.5},{"s":"GR 30%","t":19.2,"v":1.5},{"s":"GR 30%","t":19.5,"v":2.0},{"s":"GR 30%","t":19.8,"v":2.5},{"s":"GR 30%","t":20,"v":3.5}]
},
"vconcat":[
{"hconcat":[
{"width":231,"height":138,
"encoding":{"x":{"field":"t","type":"quantitative","scale":{"domain":[0,20],"nice":false},"axis":{"values":[0,5,10,15,20],"title":"Time (s)"}},"y":{"field":"v","type":"quantitative","scale":{"domain":[-0.5,2],"nice":false},"axis":{"values":[-0.5,0,0.5,1,1.5,2],"format":".1f","title":"rᵤ=Δu/σᵥₒ'"}}},
"layer":[
{"data":{"name":"cs"},"mark":{"type":"line","clip":true,"strokeWidth":1.6,"interpolate":"monotone"},"encoding":{"color":{"field":"s","type":"nominal","title":null,"scale":{"domain":["Clean Sand","GR 10%","GR 20%","GR 30%"],"range":["#1a1a1a","#f53b3b","#2f80d0","#33b356"]}},"strokeDash":{"field":"s","type":"nominal","title":null,"scale":{"domain":["Clean Sand","GR 10%","GR 20%","GR 30%"],"range":[[1,0],[4,2],[4,2],[8,3,2,3]]}}}},
{"data":{"name":"a1"},"mark":{"type":"line","clip":true,"strokeWidth":1.6,"interpolate":"monotone"},"encoding":{"color":{"field":"s","type":"nominal","title":null},"strokeDash":{"field":"s","type":"nominal","title":null}}},
{"data":{"values":[{"t":15,"v":1.75,"lab":"GR 2.5-5 mm"}]},"mark":{"type":"text","font":"Liberation Serif","fontWeight":"bold","fontSize":14,"color":"#f24545"},"encoding":{"text":{"field":"lab"}}},
{"data":{"values":[{"t":-3.4,"v":-1.12,"lab":"a"}]},"mark":{"type":"text","font":"Liberation Serif","fontWeight":"bold","fontSize":26,"color":"#000000"},"encoding":{"text":{"field":"lab"}}}
]},
{"width":231,"height":138,
"encoding":{"x":{"field":"t","type":"quantitative","scale":{"domain":[0,20],"nice":false},"axis":{"values":[0,5,10,15,20],"title":"Time (s)"}},"y":{"field":"v","type":"quantitative","scale":{"domain":[-0.5,2],"nice":false},"axis":{"values":[-0.5,0,0.5,1,1.5,2],"format":".1f","title":"rᵤ=Δu/σᵥₒ'"}}},
"layer":[
{"data":{"name":"cs"},"mark":{"type":"line","clip":true,"strokeWidth":1.6,"interpolate":"monotone"},"encoding":{"color":{"field":"s","type":"nominal","title":null,"scale":{"domain":["Clean Sand","GR 10%","GR 20%","GR 30%"],"range":["#1a1a1a","#f53b3b","#2f80d0","#33b356"]}},"strokeDash":{"field":"s","type":"nominal","title":null,"scale":{"domain":["Clean Sand","GR 10%","GR 20%","GR 30%"],"range":[[1,0],[4,2],[4,2],[8,3,2,3]]}}}},
{"data":{"name":"a2"},"mark":{"type":"line","clip":true,"strokeWidth":1.6,"interpolate":"monotone"},"encoding":{"color":{"field":"s","type":"nominal","title":null},"strokeDash":{"field":"s","type":"nominal","title":null}}},
{"data":{"values":[{"t":15,"v":1.73,"lab":"GR 5-10 mm"}]},"mark":{"type":"text","font":"Liberation Serif","fontWeight":"bold","fontSize":14,"color":"#f24545"},"encoding":{"text":{"field":"lab"}}}
]},
{"width":231,"height":138,
"encoding":{"x":{"field":"t","type":"quantitative","scale":{"domain":[0,20],"nice":false},"axis":{"values":[0,5,10,15,20],"title":"Time (s)"}},"y":{"field":"v","type":"quantitative","scale":{"domain":[-0.5,2],"nice":false},"axis":{"values":[-0.5,0,0.5,1,1.5,2],"format":".1f","title":"rᵤ=Δu/σᵥₒ'"}}},
"layer":[
{"data":{"name":"cs"},"mark":{"type":"line","clip":true,"strokeWidth":1.6,"interpolate":"monotone"},"encoding":{"color":{"field":"s","type":"nominal","title":null,"scale":{"domain":["Clean Sand","GR 10%","GR 20%","GR 30%"],"range":["#1a1a1a","#f53b3b","#2f80d0","#33b356"]}},"strokeDash":{"field":"s","type":"nominal","title":null,"scale":{"domain":["Clean Sand","GR 10%","GR 20%","GR 30%"],"range":[[1,0],[4,2],[4,2],[8,3,2,3]]}}}},
{"data":{"name":"a3"},"mark":{"type":"line","clip":true,"strokeWidth":1.6,"interpolate":"monotone"},"encoding":{"color":{"field":"s","type":"nominal","title":null},"strokeDash":{"field":"s","type":"nominal","title":null}}},
{"data":{"values":[{"t":15,"v":1.73,"lab":"GR 10-15 mm"}]},"mark":{"type":"text","font":"Liberation Serif","fontWeight":"bold","fontSize":14,"color":"#f24545"},"encoding":{"text":{"field":"lab"}}}
]}
],"spacing":80,"bounds":"flush",
"resolve":{"scale":{"x":"independent","y":"independent","color":"independent","strokeDash":"independent"}}},
{"hconcat":[
{"width":245,"height":129,
"encoding":{"x":{"field":"t","type":"quantitative","scale":{"domain":[0,20],"nice":false},"axis":{"values":[0,5,10,15,20],"title":"Time (s)"}},"y":{"field":"v","type":"quantitative","scale":{"domain":[-5,15],"nice":false},"axis":{"values":[-5,0,5,10,15],"title":"Upward ΔP (kPa)"}}},
"layer":[
{"data":{"name":"b1"},"mark":{"type":"line","clip":true,"strokeWidth":1.6,"interpolate":"monotone"},"encoding":{"color":{"field":"s","type":"nominal","title":null,"legend":{"rowPadding":-0.5,"legendY":0},"scale":{"domain":["GR 10%","GR 20%","GR 30%"],"range":["#f53b3b","#2f80d0","#22b04a"]}},"strokeDash":{"field":"s","type":"nominal","title":null,"legend":{"rowPadding":-0.5,"legendY":0},"scale":{"domain":["GR 10%","GR 20%","GR 30%"],"range":[[1,0],[6,3],[2,2]]}}}},
{"data":{"values":[{"t":15,"v":12.4,"lab":"GR 2.5-5 mm"}]},"mark":{"type":"text","font":"Liberation Serif","fontWeight":"bold","fontSize":14,"color":"#f24545"},"encoding":{"text":{"field":"lab"}}},
{"data":{"values":[{"t":-2.4,"v":-9.6,"lab":"b"}]},"mark":{"type":"text","font":"Liberation Serif","fontWeight":"bold","fontSize":24,"color":"#000000"},"encoding":{"text":{"field":"lab"}}}
]},
{"width":245,"height":129,
"encoding":{"x":{"field":"t","type":"quantitative","scale":{"domain":[0,20],"nice":false},"axis":{"values":[0,5,10,15,20],"title":"Time (s)"}},"y":{"field":"v","type":"quantitative","scale":{"domain":[-5,15],"nice":false},"axis":{"values":[-5,0,5,10,15],"title":"Upward ΔP (kPa)"}}},
"layer":[
{"data":{"name":"b2"},"mark":{"type":"line","clip":true,"strokeWidth":1.6,"interpolate":"monotone"},"encoding":{"color":{"field":"s","type":"nominal","title":null,"legend":{"rowPadding":-0.5,"legendY":0},"scale":{"domain":["GR 10%","GR 20%","GR 30%"],"range":["#f53b3b","#2f80d0","#22b04a"]}},"strokeDash":{"field":"s","type":"nominal","title":null,"legend":{"rowPadding":-0.5,"legendY":0},"scale":{"domain":["GR 10%","GR 20%","GR 30%"],"range":[[1,0],[6,3],[2,2]]}}}},
{"data":{"values":[{"t":15,"v":12.5,"lab":"GR 5-10 mm"}]},"mark":{"type":"text","font":"Liberation Serif","fontWeight":"bold","fontSize":14,"color":"#f24545"},"encoding":{"text":{"field":"lab"}}}
]},
{"width":245,"height":129,
"encoding":{"x":{"field":"t","type":"quantitative","scale":{"domain":[0,20],"nice":false},"axis":{"values":[0,5,10,15,20],"title":"Time (s)"}},"y":{"field":"v","type":"quantitative","scale":{"domain":[-5,15],"nice":false},"axis":{"values":[-5,0,5,10,15],"title":"Upward ΔP (kPa)"}}},
"layer":[
{"data":{"name":"b3"},"mark":{"type":"line","clip":true,"strokeWidth":1.6,"interpolate":"monotone"},"encoding":{"color":{"field":"s","type":"nominal","title":null,"legend":{"rowPadding":-0.5,"legendY":0},"scale":{"domain":["GR 10%","GR 20%","GR 30%"],"range":["#f53b3b","#2f80d0","#22b04a"]}},"strokeDash":{"field":"s","type":"nominal","title":null,"legend":{"rowPadding":-0.5,"legendY":0},"scale":{"domain":["GR 10%","GR 20%","GR 30%"],"range":[[1,0],[6,3],[2,2]]}}}},
{"data":{"values":[{"t":15,"v":12.2,"lab":"GR 10-15 mm"}]},"mark":{"type":"text","font":"Liberation Serif","fontWeight":"bold","fontSize":14,"color":"#f24545"},"encoding":{"text":{"field":"lab"}}}
]}
],"spacing":66,"bounds":"flush",
"resolve":{"scale":{"x":"independent","y":"independent","color":"independent","strokeDash":"independent"}}}
],
"spacing":26,
"resolve":{"scale":{"x":"independent","y":"independent","color":"independent","strokeDash":"independent"}}
}
